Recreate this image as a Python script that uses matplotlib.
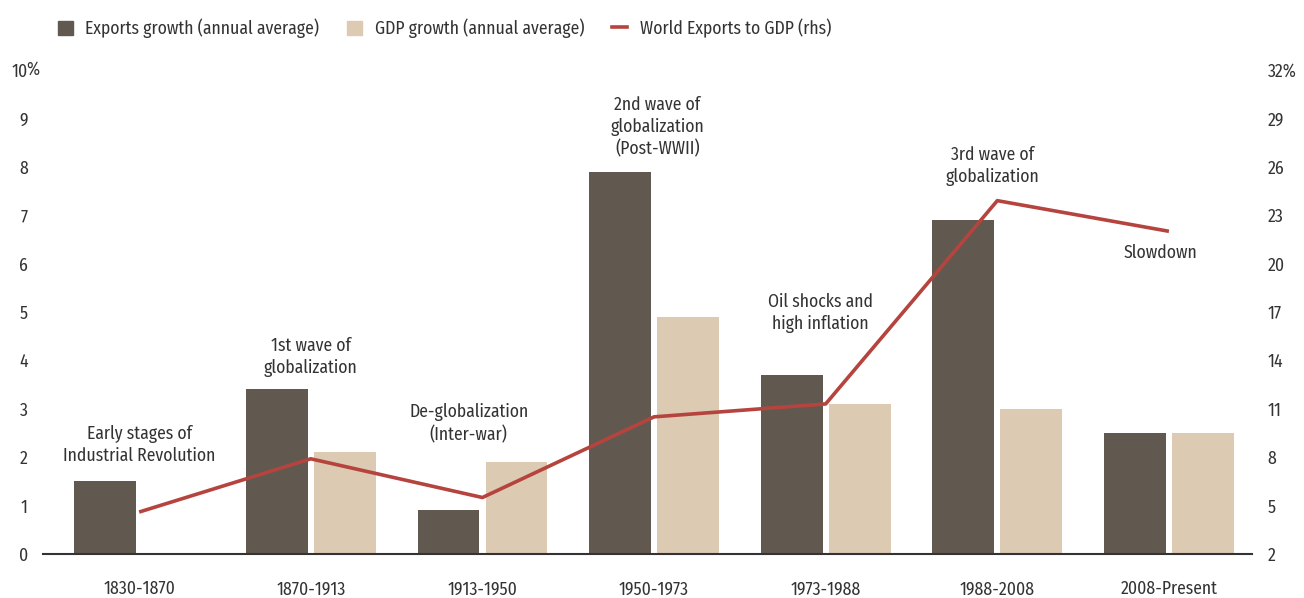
"""Export growth vs GDP growth across globalization waves"""
import numpy as np
import matplotlib.pyplot as plt
from matplotlib.patches import Patch
from matplotlib.lines import Line2D

plt.rcParams['font.family'] = ['Fira Sans Condensed', 'DejaVu Sans']
plt.rcParams['text.color'] = '#333333'

# Data
periods = ['1830-1870', '1870-1913', '1913-1950', '1950-1973',
           '1973-1988', '1988-2008', '2008-Present']
exports_growth = [1.5, 3.4, 0.9, 7.9, 3.7, 6.9, 2.5]
gdp_growth = [np.nan, 2.1, 1.9, 4.9, 3.1, 3.0, 2.5]
exports_to_gdp = [4.6, 7.9, 5.5, 10.5, 11.3, 23.9, 22.0]

annotations = ['Early stages of\nIndustrial Revolution', '1st wave of\nglobalization',
               'De-globalization\n(Inter-war)', '2nd wave of\nglobalization\n(Post-WWII)',
               'Oil shocks and\nhigh inflation', '3rd wave of\nglobalization', 'Slowdown']
annot_x = [0, 1, 1.92, 3.02, 3.97, 4.97, 5.95]
annot_y = [2.25, 4.07, 2.69, 8.82, 4.98, 8.02, 6.22]

c_exp = '#615950'
c_gdp = '#DDCAB2'
c_line = '#B5443E'
c_text = '#333333'
fs = 12.7

fig = plt.figure(figsize=(13.04, 5.98), dpi=100)
ax = fig.add_axes([0.033, 0.0736, 0.927, 0.8094])
ax2 = ax.twinx()

x = np.arange(len(periods))
ax.bar(x - 0.198, exports_growth, width=0.36, color=c_exp, zorder=2)
ax.bar(x + 0.198, gdp_growth, width=0.36, color=c_gdp, zorder=2)
ax2.plot(x, exports_to_gdp, color=c_line, linewidth=2.6, solid_capstyle='butt')

ax.set_xlim(-0.56, len(periods) - 1 + 0.483)
ax.set_ylim(0, 10)
ax2.set_ylim(2, 32)

ax.set_xticks(x)
ax.set_xticklabels(periods, fontsize=fs, color=c_text)
ax.tick_params(axis='x', length=0, pad=19)

yt = list(range(0, 11))
ax.set_yticks(yt)
ax.set_yticklabels([str(v) for v in yt], fontsize=fs, color=c_text)
ax.tick_params(axis='y', length=0, pad=11)
ax.annotate('%', xy=(0, 10), xycoords=('axes fraction', 'data'),
            xytext=(-12.2, 0), textcoords='offset points',
            ha='left', va='center', fontsize=fs, color=c_text)

yt2 = list(range(2, 33, 3))
ax2.set_yticks(yt2)
ax2.set_yticklabels([str(v) if v != 32 else '32%' for v in yt2], fontsize=fs, color=c_text)
ax2.tick_params(axis='y', length=0, pad=11.5)

for a in (ax, ax2):
    for s in ('top', 'left', 'right', 'bottom'):
        a.spines[s].set_visible(False)
ax.spines['bottom'].set_visible(True)
ax.spines['bottom'].set_color('#333333')
ax.spines['bottom'].set_linewidth(1.5)
ax.spines['bottom'].set_zorder(3)

for t, xx, yy in zip(annotations, annot_x, annot_y):
    ax.text(xx, yy, t, ha='center', va='center', fontsize=fs,
            color=c_text, linespacing=1.3)

handles = [Patch(color=c_exp), Patch(color=c_gdp),
           Line2D([0], [0], color=c_line, linewidth=2.6)]
labels = ['Exports growth (annual average)', 'GDP growth (annual average)',
          'World Exports to GDP (rhs)']
fig.legend(handles, labels, loc='center left', bbox_to_anchor=(0.032, 0.953),
           ncol=3, frameon=False, fontsize=fs, handlelength=0.85, handleheight=0.85,
           handletextpad=0.7, columnspacing=1.6, labelcolor=c_text)

fig.savefig('out.png', dpi=100, facecolor='white')
plt.close(fig)
